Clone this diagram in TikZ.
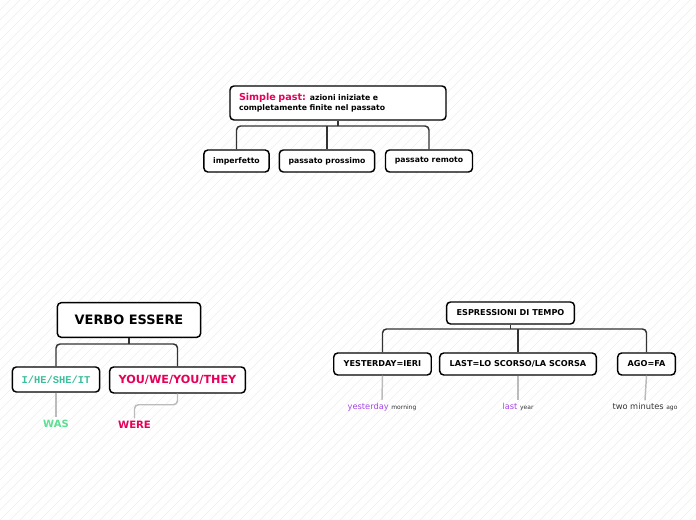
\documentclass[tikz,border=0pt]{standalone}
\usepackage{fontspec}
\setmainfont{DejaVu Sans}
\newfontfamily\pronfont{Liberation Mono}
\usepackage{xcolor}

\definecolor{pastred}{HTML}{E6005A}
\definecolor{heteal}{HTML}{3DBE9C}
\definecolor{wasgreen}{HTML}{5CE091}
\definecolor{lastviolet}{HTML}{A546E6}
\definecolor{linkgray}{HTML}{333333}
\definecolor{leafgray}{HTML}{BBBBBB}

\begin{document}
\begin{tikzpicture}[x=0.75pt,y=-0.75pt,
    box/.style={draw=black,line width=1.1pt,rounded corners=3pt,fill=white,
      font=\bfseries\fontsize{5.8}{7}\selectfont,inner xsep=7pt,minimum height=16.5pt},
    capsbox/.style={box,font=\bfseries\fontsize{6.1}{7}\selectfont,inner xsep=7.5pt},
    link/.style={draw=linkgray,line width=1.1pt,rounded corners=3pt},
    leaf/.style={draw=leafgray,line width=1.1pt,rounded corners=3pt},
    leaftext/.style={font=\fontsize{6.2}{7}\selectfont,inner sep=2pt}]
        \def\picw{696}
        \def\pich{520}

        \useasboundingbox (0,0) rectangle (\picw,\pich);

        %------------------
        % 背景の斜線
        %------------------
        \begin{scope}
          \clip (0,0) rectangle (\picw,\pich);
          \foreach \a in {-520,-510,...,700}
            \draw[black!7,line width=0.4pt] (\a,\pich) -- (\a+520,0);
        \end{scope}

        %------------------
        % Simple past
        %------------------
        \node[box,text width=148.5pt,inner xsep=6.75pt,minimum height=25.5pt,
          align=left,font=\bfseries\fontsize{5.8}{7.5}\selectfont] (sp) at (338,103)
          {{\color{pastred}\fontsize{7.2}{7.5}\selectfont Simple past:} azioni iniziate e\\
           completamente finite nel passato};

        \node[box] (imp) at (236.5,161) {imperfetto};
        \node[box] (pro) at (327,161) {passato prossimo};
        \node[box] (rem) at (429,161) {passato remoto};

        \coordinate (spbar) at (0,126);
        \draw[link] (sp.south) -- (sp.south |- spbar);
        \draw[link] (imp.north) |- (sp.south |- spbar) -| (rem.north);
        \draw[link] (pro.north) -- (pro.north |- spbar);

        %------------------
        % VERBO ESSERE
        %------------------
        \node[box,font=\bfseries\fontsize{9.7}{11}\selectfont,inner xsep=13pt,
          minimum height=26pt] (verbo) at (129,320) {VERBO ESSERE};

        \node[box,font=\pronfont\bfseries\fontsize{7.8}{9}\selectfont,text=heteal,
          minimum height=18.75pt] (he) at (56,379.5) {I/HE/SHE/IT};
        \node[box,font=\bfseries\fontsize{8.4}{10}\selectfont,text=pastred,
          inner xsep=6.75pt,minimum height=19.5pt] (you) at (177.5,380) {YOU/WE/YOU/THEY};

        \coordinate (verbobar) at (0,344);
        \draw[link] (verbo.south) -- (verbo.south |- verbobar);
        \draw[link] (he.north) |- (verbo.south |- verbobar) -| (you.north);

        % WAS / WERE
        \node[font=\bfseries\fontsize{7.5}{9}\selectfont,text=wasgreen,inner sep=2pt]
          (was) at (56,424) {WAS};
        \node[font=\bfseries\fontsize{7.6}{9}\selectfont,text=pastred,inner sep=2pt]
          (were) at (134.5,425) {WERE};
        \draw[leaf] (he.south) -- (was.north);
        \draw[leaf] (you.south) -- ++(0,11) -| (were.north);

        %------------------
        % ESPRESSIONI DI TEMPO
        %------------------
        \node[capsbox] (esp) at (510.5,313) {ESPRESSIONI DI TEMPO};

        \node[capsbox] (yest) at (382.5,364) {YESTERDAY=IERI};
        \node[capsbox] (last) at (518,364) {LAST=LO SCORSO/LA SCORSA};
        \node[capsbox] (ago) at (646.5,364) {AGO=FA};

        \coordinate (espbar) at (0,329);
        \draw[link] (esp.south) -- (esp.south |- espbar);
        \draw[link] (yest.north) |- (esp.south |- espbar) -| (ago.north);
        \draw[link] (last.north) -- (last.north |- espbar);

        % esempi
        \node[leaftext] (ym) at (382,407)
          {{\color{lastviolet}yesterday} {\fontsize{4.5}{5}\selectfont\color{linkgray}morning}};
        \node[leaftext] (ly) at (518,407)
          {{\color{lastviolet}last} {\fontsize{4.5}{5}\selectfont\color{linkgray}year}};
        \node[leaftext,text=linkgray] (tma) at (645,407)
          {two minutes {\fontsize{4.5}{5}\selectfont ago}};
        \draw[leaf] (yest.south) -- (ym.north);
        \draw[leaf] (last.south) -- (ly.north);
        \draw[leaf] (ago.south) -- (tma.north);
      \end{tikzpicture}
\end{document}
